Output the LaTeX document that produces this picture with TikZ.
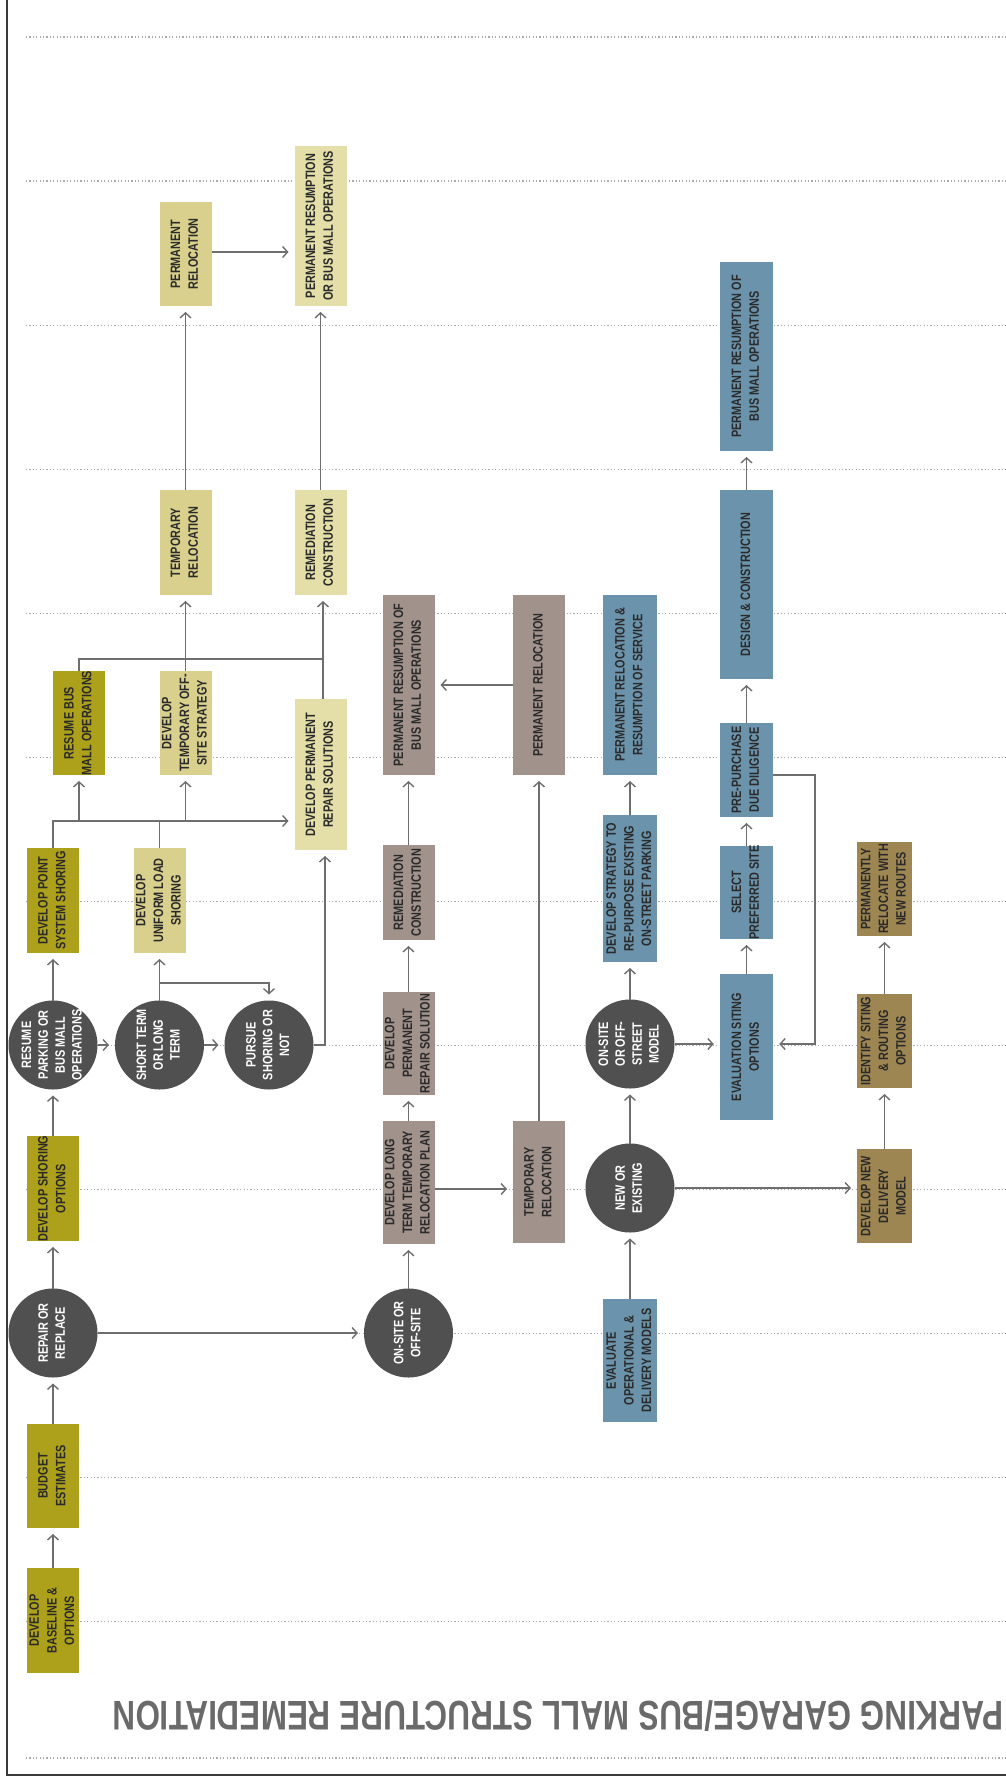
\documentclass[tikz,border=0pt]{standalone}
\usepackage{fontspec}
\usepackage{graphicx}
\usetikzlibrary{arrows.meta,backgrounds}
\newfontfamily\cond{Liberation Sans}[FakeStretch=0.8]

\definecolor{oliveC}{HTML}{ADA11B}
\definecolor{yelC}{HTML}{D8D08C}
\definecolor{paleC}{HTML}{E4DEA8}
\definecolor{mauveC}{HTML}{A1928C}
\definecolor{blueC}{HTML}{6B94AC}
\definecolor{brownC}{HTML}{9D8652}
\definecolor{circC}{HTML}{505050}
\definecolor{txtC}{HTML}{2A2A2A}
\definecolor{lineC}{HTML}{6E6E6E}
\definecolor{dotC}{HTML}{A9A9A9}
\definecolor{frameC}{HTML}{3A3A3A}
\definecolor{titleC}{HTML}{6A6A6A}

% vertical (bottom-to-top) multi-line label, centred and without size
\newcommand\vt[1]{\rotatebox{90}{\begin{tabular}{@{}c@{}}#1\end{tabular}}}
\newcommand\ct[1]{\makebox[0pt]{\smash{\raisebox{-.5\height}{\vt{#1}}}}}

\begin{document}
\begin{tikzpicture}[x=0.5pt,y=-0.5pt,
  card/.style={rectangle, inner sep=0pt, outer sep=0pt, text=txtC, minimum width=26pt,
    font=\cond\bfseries\fontsize{6.8}{8.8}\selectfont},
  olivebx/.style={card, fill=oliveC},
  yelbx/.style={card, fill=yelC},
  palebx/.style={card, fill=paleC},
  mauvebx/.style={card, fill=mauveC},
  bluebx/.style={card, fill=blueC, minimum width=26.75pt},
  brownbx/.style={card, fill=brownC, minimum width=27.5pt},
  decision/.style={circle, fill=circC, text=white, minimum size=44.5pt, inner sep=0pt,
    outer sep=0pt, font=\cond\bfseries\fontsize{6.8}{8.4}\selectfont},
  flow/.style={draw=lineC, line width=0.7pt,
    -{Straight Barb[length=2.5pt,width=5.5pt]}, shorten >=3pt},
  link/.style={draw=lineC, line width=0.7pt},
  guide/.style={draw=dotC, line width=0.6pt, dash pattern=on 0.6pt off 1.1pt},
]
\useasboundingbox (0,0) rectangle (1006,1778);

% ---- column 1 -------------------------------------------------------
\node[olivebx, minimum height=52.5pt] (base) at (53,1620.5) {\ct{DEVELOP\\BASELINE \&\\OPTIONS}};
\node[olivebx, minimum height=52pt] (budget) at (53,1476) {\ct{BUDGET\\ESTIMATES}};
\node[decision] (repair) at (53,1333) {\ct{REPAIR OR\\REPLACE}};
\node[olivebx, minimum height=52.5pt] (shoringopt) at (53,1188.5) {\ct{DEVELOP SHORING\\OPTIONS}};
\node[decision] (resume) at (53,1045) {\ct{RESUME\\PARKING OR\\BUS MALL\\OPERATIONS}};
\node[olivebx, minimum height=52.5pt] (pointshoring) at (53,900.5) {\ct{DEVELOP POINT\\SYSTEM SHORING}};
\node[olivebx, minimum height=52pt] (resumebus) at (79,723) {\ct{RESUME BUS\\MALL OPERATIONS}};

% ---- column 2 -------------------------------------------------------
\node[yelbx, minimum height=52.5pt] (uniform) at (159.5,900.5) {\ct{DEVELOP\\UNIFORM LOAD\\SHORING}};
\node[decision] (shortlong) at (159.5,1045) {\ct{SHORT TERM\\OR LONG\\TERM}};
\node[yelbx, minimum height=52pt] (tempoff) at (185.5,723) {\ct{DEVELOP\\TEMPORARY OFF-\\SITE STRATEGY}};
\node[yelbx, minimum height=52.5pt] (temprel) at (185.5,542.5) {\ct{TEMPORARY\\RELOCATION}};
\node[yelbx, minimum height=52pt] (permrel) at (185.5,254) {\ct{PERMANENT\\RELOCATION}};

% ---- column 3 -------------------------------------------------------
\node[decision] (pursue) at (269,1045) {\ct{PURSUE\\SHORING OR\\NOT}};
\node[palebx, minimum height=75.5pt] (permrepair) at (320.5,774.5) {\ct{DEVELOP PERMANENT\\REPAIR SOLUTIONS}};
\node[palebx, minimum height=52.5pt] (remedA) at (320.5,542.5) {\ct{REMEDIATION\\CONSTRUCTION}};
\node[palebx, minimum height=80pt] (permresA) at (320.5,226) {\ct{PERMANENT RESUMPTION\\OR BUS MALL OPERATIONS}};

% ---- column 4 -------------------------------------------------------
\node[decision] (onoff) at (408.5,1333) {\ct{ON-SITE OR\\OFF-SITE}};
\node[mauvebx, minimum height=61.5pt] (longterm) at (408.5,1182.5) {\ct{DEVELOP LONG\\TERM TEMPORARY\\RELOCATION PLAN}};
\node[mauvebx, minimum height=51.5pt] (permsol) at (408.5,1043.5) {\ct{DEVELOP\\PERMANENT\\REPAIR SOLUTION}};
\node[mauvebx, minimum height=47.5pt] (remedB) at (408.5,892.5) {\ct{REMEDIATION\\CONSTRUCTION}};
\node[mauvebx, minimum height=90pt] (permresB) at (408.5,685) {\ct{PERMANENT RESUMPTION OF\\BUS MALL OPERATIONS}};

% ---- column 5 -------------------------------------------------------
\node[mauvebx, minimum height=61pt] (temprelB) at (539,1182) {\ct{TEMPORARY\\RELOCATION}};
\node[mauvebx, minimum height=90pt] (permrelB) at (539,685) {\ct{PERMANENT RELOCATION}};
\node[bluebx, minimum height=61.5pt] (evaluate) at (630,1360.5) {\ct{EVALUATE\\OPERATIONAL \&\\DELIVERY MODELS}};
\node[decision] (newexist) at (630,1188) {\ct{NEW OR\\EXISTING}};
\node[decision] (onstreet) at (630,1044) {\ct{ON-SITE\\OR OFF-\\STREET\\MODEL}};
\node[bluebx, minimum height=73.5pt] (strategy) at (630,888.5) {\ct{DEVELOP STRATEGY TO\\RE-PURPOSE EXISTING\\ON-STREET PARKING}};
\node[bluebx, minimum height=90pt] (permrelres) at (630,685) {\ct{PERMANENT RELOCATION \&\\RESUMPTION OF SERVICE}};

% ---- column 6 -------------------------------------------------------
\node[bluebx, minimum height=73pt] (evalsiting) at (746.5,1047) {\ct{EVALUATION SITING\\OPTIONS}};
\node[bluebx, minimum height=46.5pt] (select) at (746.5,892.5) {\ct{SELECT\\PREFERRED SITE}};
\node[bluebx, minimum height=47pt] (prepurchase) at (746.5,770) {\ct{PRE-PURCHASE\\DUE DILIGENCE}};
\node[bluebx, minimum height=94.5pt] (design) at (746.5,584.5) {\ct{DESIGN \& CONSTRUCTION}};
\node[bluebx, minimum height=94.5pt] (permresC) at (746.5,356.5) {\ct{PERMANENT RESUMPTION OF\\BUS MALL OPERATIONS}};

% ---- column 7 -------------------------------------------------------
\node[brownbx, minimum height=47pt] (newdelivery) at (884.5,1196) {\ct{DEVELOP NEW\\DELIVERY\\MODEL}};
\node[brownbx, minimum height=47pt] (identify) at (884.5,1041) {\ct{IDENTIFY SITING\\\& ROUTING\\OPTIONS}};
\node[brownbx, minimum height=47pt] (permrelocate) at (884.5,889) {\ct{PERMANENTLY\\RELOCATE WITH\\NEW ROUTES}};

% ---- title ----------------------------------------------------------
\node[rotate=180, text=titleC, inner sep=0pt] (title) at (558,1716)
  {\resizebox{445pt}{15pt}{\cond\bfseries PARKING GARAGE/BUS MALL STRUCTURE REMEDIATION}};

% ---- guide lines and frame ------------------------------------------
\begin{scope}[on background layer]
  \foreach \k in {0,...,11}
    \draw[guide] (26,{37+144.05*\k}) -- (1006,{37+144.05*\k});
  \draw[guide] (26,1758) -- (1006,1758);
  \draw[frameC, line width=0.8pt] (7,0) -- (7,1775) -- (1006,1775);
\end{scope}

% ---- connectors: column 1 to 3 ----------------------------------------
\draw[flow] (base) -- (budget);
\draw[flow] (budget) -- (repair);
\draw[flow] (repair) -- (onoff);
\draw[flow] (repair) -- (shoringopt);
\draw[flow] (shoringopt) -- (resume);
\draw[flow] (resume) -- (shortlong);
\draw[flow] (shortlong) -- (pursue);
\draw[flow] (resume) -- (pointshoring);

\coordinate (jA) at (53,821);
\draw[flow] (pointshoring.north) -- (jA) -- (jA -| permrepair.west);
\draw[flow] (resumebus.south |- jA) -- (resumebus.south);
\draw[flow] (tempoff.south |- jA) -- (tempoff.south);
\draw[link] (uniform.north) -- (uniform.north |- jA);

\draw[flow] (shortlong) -- (uniform);
\coordinate (jB) at (159.5,983);
\draw[flow] (jB) -- (jB -| pursue.north) -- (pursue.north);

\coordinate (jC) at (325,1045);
\draw[flow] (pursue.east) -- (jC) -- (jC |- permrepair.south);

\coordinate (jD) at (323,659);
\draw[flow] (jD |- permrepair.north) -- (jD |- remedA.south);
\draw[link] (resumebus.north) -- (resumebus.north |- jD) -- (jD);
\draw[flow] (tempoff) -- (temprel);
\draw[flow] (temprel) -- (permrel);
\draw[flow] (remedA) -- (permresA);
\draw[flow] (permrel.east |- 0,252) -- (permresA.west |- 0,252);

% ---- connectors: columns 4 and 5 --------------------------------------
\draw[flow] (onoff) -- (longterm);
\draw[flow] (longterm) -- (permsol);
\draw[flow] (permsol) -- (remedB);
\draw[flow] (remedB) -- (permresB);
\draw[flow] (longterm.east |- 0,1189) -- (temprelB.west |- 0,1189);
\draw[flow] (temprelB) -- (permrelB);
\draw[flow] (permrelB) -- (permresB);

% ---- connectors: delivery models --------------------------------------
\draw[flow] (evaluate) -- (newexist);
\draw[flow] (newexist) -- (onstreet);
\draw[flow] (onstreet) -- (strategy);
\draw[flow] (strategy) -- (permrelres);
\draw[flow] (onstreet.east) -- (onstreet.east -| evalsiting.west);
\draw[flow] (evalsiting) -- (select);
\draw[flow] (select) -- (prepurchase);
\draw[flow] (prepurchase) -- (design);
\draw[flow] (design) -- (permresC);
\coordinate (jF) at (815,775);
\draw[flow] (prepurchase.east |- jF) -- (jF) -- (jF |- onstreet.east) -- (evalsiting.east |- onstreet.east);
\draw[flow] (newexist.east) -- (newexist.east -| newdelivery.west);
\draw[flow] (newdelivery) -- (identify);
\draw[flow] (identify) -- (permrelocate);
\end{tikzpicture}
\end{document}
